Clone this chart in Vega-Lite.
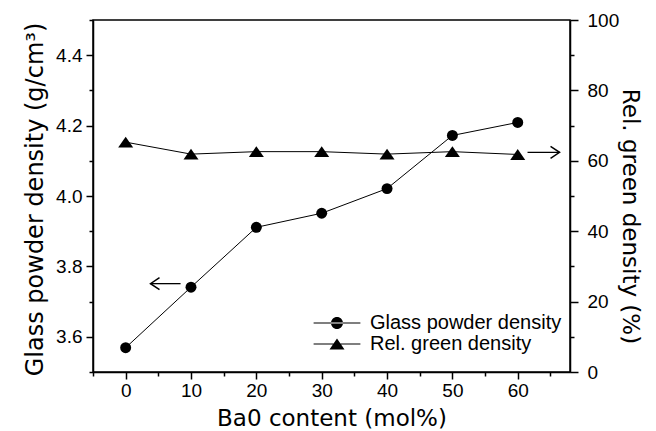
{
  "$schema": "https://vega.github.io/schema/vega-lite/v6.json",
  "width": 477,
  "height": 352,
  "autosize": "none",
  "padding": {"left": 93, "top": 20, "right": 86, "bottom": 59},
  "background": "white",
  "config": {
    "view": {"stroke": "black", "strokeWidth": 1.5},
    "axis": {
      "grid": false,
      "domainColor": "black",
      "domainWidth": 1.5,
      "tickColor": "black",
      "tickWidth": 1.5,
      "labelColor": "black",
      "titleColor": "black",
      "labelFont": "Liberation Sans",
      "labelFontSize": 19,
      "titleFont": "DejaVu Sans",
      "titleFontSize": 23,
      "titleFontWeight": "normal",
      "tickCount": 100
    },
    "legend": {
      "orient": "none",
      "legendX": 234,
      "legendY": 293,
      "symbolSize": 144,
      "labelFont": "Liberation Sans",
      "labelFontSize": 20,
      "labelColor": "black",
      "labelOffset": 23,
      "labelLimit": 400,
      "rowPadding": 1,
      "padding": 0,
      "symbolStrokeWidth": 0
    }
  },
  "datasets": {
    "pts": [
      {"x": 0, "density": 3.569, "green": 65.3},
      {"x": 10, "density": 3.741, "green": 61.9},
      {"x": 20, "density": 3.911, "green": 62.6},
      {"x": 30, "density": 3.951, "green": 62.6},
      {"x": 40, "density": 4.021, "green": 61.9},
      {"x": 50, "density": 4.172, "green": 62.6},
      {"x": 60, "density": 4.209, "green": 61.8}
    ]
  },
  "encoding": {
    "x": {
      "field": "x",
      "type": "quantitative",
      "scale": {"domain": [-5, 68], "nice": false, "zero": false},
      "axis": {
        "title": "Ba0 content (mol%)",
        "values": [-5, 0, 5, 10, 15, 20, 25, 30, 35, 40, 45, 50, 55, 60, 65],
        "tickCount": 100,
        "labelExpr": "(datum.value % 10 == 0 && datum.value >= 0) ? datum.label : ''",
        "tickSize": {"condition": {"test": "datum.value % 10 == 0", "value": 7}, "value": 4},
        "labelPadding": 2,
        "titleY": 53,
        "titleBaseline": "alphabetic"
      }
    }
  },
  "layer": [
    {
      "layer": [
        {
          "data": {"name": "pts"},
          "mark": {"type": "line", "color": "black", "strokeWidth": 1},
          "encoding": {
            "y": {
              "field": "density",
              "type": "quantitative",
              "scale": {"domain": [3.5, 4.5], "nice": false, "zero": false},
              "axis": {
                "title": "Glass powder density (g/cm³)",
                "titleFontSize": 24,
                "values": [3.5, 3.6, 3.7, 3.8, 3.9, 4.0, 4.1, 4.2, 4.3, 4.4, 4.5],
                "tickCount": 100,
                "format": ".1f",
                "labelExpr": "abs(datum.value * 5 - round(datum.value * 5)) < 0.01 ? datum.label : ''",
                "tickSize": {"condition": {"test": "abs(datum.value * 5 - round(datum.value * 5)) < 0.01", "value": 7}, "value": 4},
                "labelPadding": 4,
                "titleX": -51,
                "titleY": 179,
                "titleBaseline": "alphabetic"
              }
            }
          }
        },
        {
          "data": {"name": "pts"},
          "mark": {"type": "point", "shape": "circle", "filled": true, "color": "black", "opacity": 1, "size": 120},
          "encoding": {
            "y": {"field": "density", "type": "quantitative"}
          }
        },
        {
          "data": {"values": [{"x": 3.8, "x2": 8.4, "density": 3.751}]},
          "mark": {"type": "rule", "color": "black", "strokeWidth": 1.3},
          "encoding": {
            "x2": {"field": "x2"},
            "y": {"field": "density", "type": "quantitative"}
          }
        },
        {
          "data": {"values": [{"x": 3.8, "density": 3.751}]},
          "mark": {"type": "point", "shape": "M1.5,-1L0,0L1.5,1", "filled": false, "color": "black", "strokeWidth": 1.5, "size": 144, "opacity": 1},
          "encoding": {
            "y": {"field": "density", "type": "quantitative"}
          }
        },
        {
          "data": {"values": [{"x": 0, "density": 3.6, "series": "Glass powder density"}, {"x": 0, "density": 3.6, "series": "Rel. green density"}]},
          "transform": [{"filter": "false"}],
          "mark": {"type": "point", "filled": true, "color": "black", "opacity": 1},
          "encoding": {
            "y": {"field": "density", "type": "quantitative"},
            "shape": {
              "field": "series",
              "type": "nominal",
              "scale": {
                "domain": ["Glass powder density", "Rel. green density"],
                "range": ["M-3.9,-0.08H3.9V0.08H-3.9ZM-1,0A1,1,0,1,0,1,0A1,1,0,1,0,-1,0Z", "M-3.9,-0.08H3.9V0.08H-3.9ZM0,-0.92L1.25,0.92L-1.25,0.92Z"]
              },
              "legend": {"title": null}
            }
          }
        }
      ]
    },
    {
      "layer": [
        {
          "data": {"name": "pts"},
          "mark": {"type": "line", "color": "black", "strokeWidth": 1},
          "encoding": {
            "y": {
              "field": "green",
              "type": "quantitative",
              "scale": {"domain": [0, 100], "nice": false},
              "axis": {
                "orient": "right",
                "title": "Rel. green density (%)",
                "values": [0, 10, 20, 30, 40, 50, 60, 70, 80, 90, 100],
                "tickCount": 100,
                "labelExpr": "datum.value % 20 == 0 ? datum.label : ''",
                "tickSize": {"condition": {"test": "datum.value % 20 == 0", "value": 8}, "value": 4},
                "labelPadding": 9,
                "titleX": 52,
                "titleY": 196,
                "titleAngle": 90,
                "titleBaseline": "alphabetic"
              }
            }
          }
        },
        {
          "data": {"name": "pts"},
          "mark": {"type": "point", "shape": "M0,-0.73L1,0.73L-1,0.73Z", "filled": true, "color": "black", "opacity": 1, "size": 225},
          "encoding": {
            "y": {"field": "green", "type": "quantitative"}
          }
        },
        {
          "data": {"values": [{"x": 66.4, "x2": 61.5, "green": 62.4}]},
          "mark": {"type": "rule", "color": "black", "strokeWidth": 1.3},
          "encoding": {
            "x2": {"field": "x2"},
            "y": {"field": "green", "type": "quantitative"}
          }
        },
        {
          "data": {"values": [{"x": 66.4, "green": 62.4}]},
          "mark": {"type": "point", "shape": "M-1.5,-1L0,0L-1.5,1", "filled": false, "color": "black", "strokeWidth": 1.5, "size": 144, "opacity": 1},
          "encoding": {
            "y": {"field": "green", "type": "quantitative"}
          }
        }
      ]
    }
  ],
  "resolve": {"scale": {"y": "independent"}}
}
